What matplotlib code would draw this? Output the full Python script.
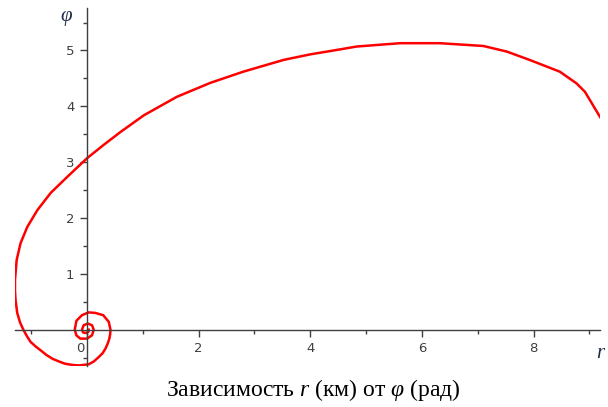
import matplotlib
matplotlib.use('Agg')
import matplotlib.pyplot as plt
from matplotlib.ticker import FixedLocator

plt.rcParams['mathtext.fontset'] = 'custom'
plt.rcParams['mathtext.rm'] = 'Liberation Serif'
plt.rcParams['mathtext.it'] = 'Liberation Serif:italic'

# spiral traced point by point, outer end first, winding inwards
x_vals = [9.19, 8.92, 8.77, 8.47, 7.93, 7.52, 7.10, 6.32, 5.61, 4.83, 4.54,
          4.00, 3.52, 2.80, 2.21, 1.61, 1.02, 0.60, 0.30, 0.00, -0.35, -0.65,
          -0.89, -1.07, -1.19, -1.26, -1.29, -1.29, -1.28, -1.25, -1.20, -1.14,
          -1.08, -1.01, -0.92, -0.83, -0.73, -0.62, -0.50, -0.39, -0.27, -0.15,
          0.03, 0.12, 0.21, 0.28, 0.33, 0.37, 0.40, 0.415, 0.42,
          0.39, 0.29, 0.15, 0.03, -0.09, -0.19, -0.22, -0.19, -0.12, 0.00,
          0.09, 0.12, 0.09, 0.015, -0.06, -0.09, -0.07, -0.01, 0.03, 0.03]
y_vals = [3.81, 4.26, 4.41, 4.62, 4.83, 4.98, 5.08, 5.13, 5.13, 5.07, 5.02,
          4.93, 4.83, 4.62, 4.42, 4.17, 3.84, 3.54, 3.31, 3.07, 2.74, 2.45,
          2.14, 1.84, 1.55, 1.25, 0.89, 0.70, 0.53, 0.30, 0.13, 0.00,
          -0.11, -0.22, -0.30, -0.37, -0.45, -0.52, -0.57, -0.61, -0.63, -0.64,
          -0.62, -0.57, -0.49, -0.42, -0.34, -0.25, -0.16, -0.08, 0.00,
          0.14, 0.26, 0.30, 0.31, 0.26, 0.16, 0.00, -0.10, -0.16, -0.16,
          -0.10, 0.00, 0.08, 0.11, 0.08, 0.00, -0.05, -0.06, -0.03, 0.00]

x_major = [0, 2, 4, 6, 8]
x_labels = ['', '2', '4', '6', '8']
x_minor = [-1, 1, 3, 5, 7, 9]
y_major = [1, 2, 3, 4, 5]
y_labels = ['1', '2', '3', '4', '5']
y_minor = [-0.5, 0.5, 1.5, 2.5, 3.5, 4.5, 5.5]

axis_color = '#404040'

fig = plt.figure(figsize=(6.08, 4.07), dpi=100)
ax = fig.add_axes([15 / 608, 41 / 407, 585 / 608, 358 / 407])

ax.plot(x_vals, y_vals, color='#ff0000', linewidth=1.8, solid_joinstyle='round')

ax.set_xlim(-1.29, 9.19)
ax.set_ylim(-0.65, 5.76)

for side in ['top', 'right']:
    ax.spines[side].set_visible(False)
ax.spines['left'].set_position(('data', 0))
ax.spines['bottom'].set_position(('data', 0))
for side in ['left', 'bottom']:
    ax.spines[side].set_color(axis_color)
    ax.spines[side].set_linewidth(1.0)

ax.set_xticks(x_major)
ax.set_xticklabels(x_labels)
ax.xaxis.set_minor_locator(FixedLocator(x_minor))
ax.set_yticks(y_major)
ax.set_yticklabels(y_labels)
ax.yaxis.set_minor_locator(FixedLocator(y_minor))

ax.tick_params(which='major', direction='out', length=5, width=1.0,
               color=axis_color, labelcolor=axis_color, labelsize=9.5, pad=4)
ax.tick_params(which='minor', direction='out', length=3, width=1.0,
               color=axis_color)

ax.annotate('0', (0, 0), xytext=(-4.7, -9), textcoords='offset points',
            ha='center', va='top', fontsize=9.5, color=axis_color)

# axis names at the ends of the axes
fig.text(66 / 608, 1 - 17 / 407, 'φ', fontsize=15, family='Liberation Serif',
         style='italic', color='#1f2c48', ha='center', va='center')
fig.text(600 / 608, 1 - 354 / 407, 'r', fontsize=15, family='Liberation Serif',
         style='italic', color='#1f2c48', ha='center', va='center')

fig.text(313 / 608, 1 - 390 / 407,
         'Зависимость $\\mathit{r}$ (км) от $\\mathit{φ}$ (рад)',
         fontsize=17, family='Liberation Serif', ha='center', va='center')

fig.savefig('out.png', dpi=100)
